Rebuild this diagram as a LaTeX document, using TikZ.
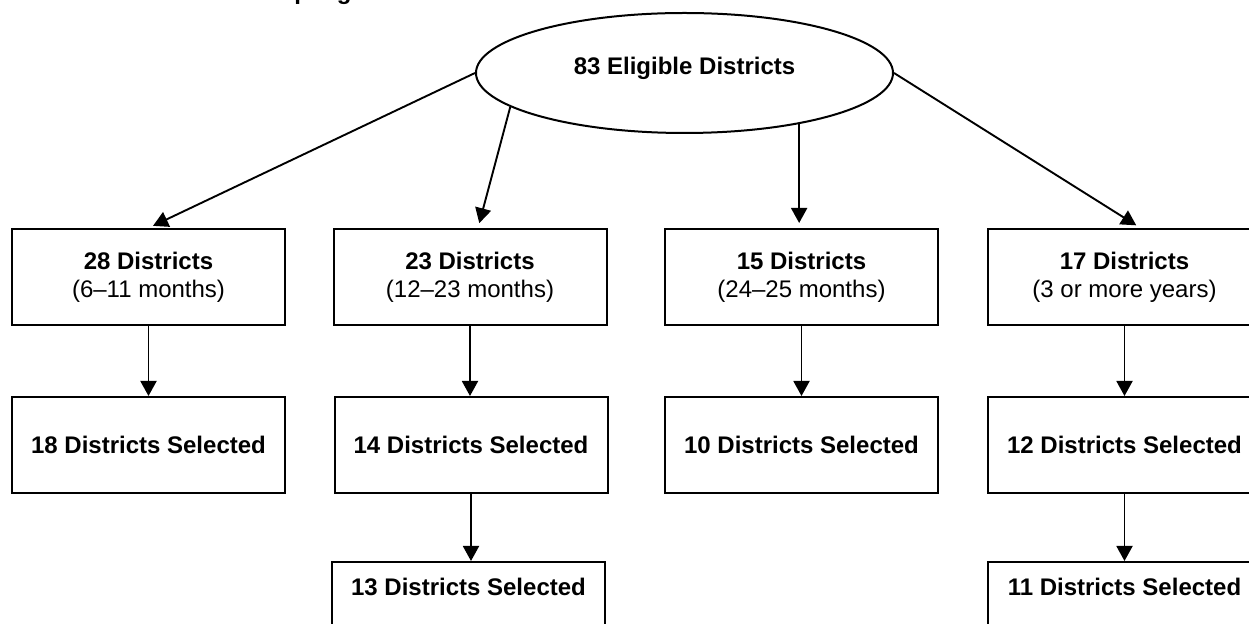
\documentclass[tikz,border=0pt]{standalone}
\usepackage{fontspec}
\setmainfont{Liberation Sans}
\usetikzlibrary{shapes.geometric,arrows.meta}
\begin{document}
\begin{tikzpicture}[x=0.5pt,y=-0.5pt,
  font=\fontsize{12}{13.8}\selectfont,
  box/.style={draw, line width=1pt, minimum width=136.5pt, minimum height=48pt, inner sep=0pt, align=center},
  conn/.style={line width=0.95pt, -{Triangle[width=8pt,length=7.5pt]}},
  lbl/.style={font=\fontsize{12}{13.8}\selectfont\bfseries, inner sep=0pt}
]
\useasboundingbox (0,0) rectangle (1249,624);
\begin{scope}
\clip (0,0) rectangle (1249,624);
\node[lbl, anchor=base east] (title) at (352,0) {Sampling};

\node[draw, ellipse, line width=1pt, minimum width=208.5pt, minimum height=60pt, inner sep=0pt] (ell) at (684.5,73) {};
\node[lbl] (elltxt) at (684.5,68) {83 Eligible Districts};

\node[box] (b1) at (148.5,277) {\textbf{28 Districts}\\(6–11 months)};
\node[box] (b2) at (470,277) {\textbf{23 Districts}\\(12–23 months)};
\node[box] (b3) at (801.5,277) {\textbf{15 Districts}\\(24–25 months)};
\node[box] (b4) at (1124.5,277) {\textbf{17 Districts}\\(3 or more years)};

\node[box, font=\fontsize{12}{13.8}\selectfont\bfseries] (c1) at (148.5,445) {18 Districts Selected};
\node[box, font=\fontsize{12}{13.8}\selectfont\bfseries] (c2) at (471,445) {14 Districts Selected};
\node[box, font=\fontsize{12}{13.8}\selectfont\bfseries] (c3) at (801.5,445) {10 Districts Selected};
\node[box, font=\fontsize{12}{13.8}\selectfont\bfseries] (c4) at (1124.5,445) {12 Districts Selected};

\node[box] (d2) at (468.5,610) {};
\node[lbl] (d2txt) at (468.5,587) {13 Districts Selected};
\node[box] (d4) at (1124.5,610) {};
\node[lbl] (d4txt) at (1124.5,587) {11 Districts Selected};

\draw[conn, shorten >=2.5pt] (ell.180) -- (b1.north);
\draw[conn, shorten >=2.5pt] (ell.191.3) -- ([xshift=4pt]b2.north);
\draw[conn, shorten >=2.5pt] (ell.336.4) -- (b3.north -| ell.336.4);
\draw[conn, shorten >=2.5pt] (ell.0) -- ([xshift=8pt]b4.north);

\draw[conn] (b1.south) -- (c1.north);
\draw[conn] (b2.south) -- (b2.south |- c2.north);
\draw[conn] (b3.south) -- (c3.north);
\draw[conn] (b4.south) -- (c4.north);
\draw[conn] (c2.south) -- (c2.south |- d2.north);
\draw[conn] (c4.south) -- (d4.north);
\end{scope}
\end{tikzpicture}
\end{document}
